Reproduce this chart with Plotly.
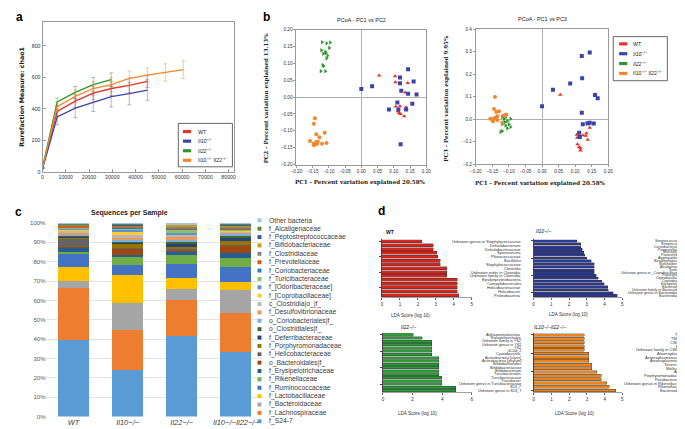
import plotly.graph_objects as go

W, H = 685, 429
def X(px): return px / W
def Y(py): return 1 - py / H
def dx(a, b): return [X(a), X(b)]
def dy(top, bottom): return [Y(bottom), Y(top)]

SANS = "Liberation Sans"
SERIF = "DejaVu Serif"

# ---------------- DATA ----------------
group_html = ["WT", "<i>Il10</i><sup>−/−</sup>", "<i>Il22</i><sup>−/−</sup>",
              "Il10<sup>−/−</sup> Il22<sup>−/−</sup>"]
group_colors = ["#e8302a", "#3a44a8", "#2e962e", "#f5862a"]
err_colors = ["rgba(232,48,42,0.45)", "rgba(58,68,168,0.4)", "rgba(46,150,46,0.45)", "rgba(245,134,42,0.45)"]

# a: rarefaction chao1
depth = [0, 6300, 14050, 21800, 29550, 37300, 45050, 52800, 60550]
chao_wt = [25, 385, 450, 500, 530, 550, 575]
chao_wt_err = [0, 35, 40, 42, 45, 45, 38]
chao_il10 = [20, 350, 405, 440, 478, 497, 520]
chao_il10_err = [0, 50, 60, 55, 65, 70, 65]
chao_il22 = [30, 445, 505, 555, 587]
chao_il22_err = [0, 25, 38, 45, 42]
chao_dko = [28, 415, 480, 530, 555, 595, 615, 632, 650]
chao_dko_err = [0, 30, 40, 45, 45, 45, 45, 55, 57]

# b: PCoA
pc1a_wt = [0.055, 0.104, 0.105, 0.143, 0.135, 0.106, 0.119, 0.138, 0.138, 0.113, 0.121, 0.132, 0.116, 0.136]
pc2_wt = [0.064, 0.062, 0.044, 0.042, 0.014, -0.028, -0.027, -0.030, -0.033, -0.042, -0.050, -0.057, -0.047, -0.035]
pc1a_il10 = [0.000, 0.033, 0.144, 0.119, 0.119, 0.123, 0.161, 0.144, 0.170, 0.157, 0.111, 0.085, 0.114, 0.138, 0.121]
pc2_il10 = [0.024, 0.032, 0.083, 0.058, 0.041, 0.019, 0.046, 0.010, 0.008, -0.020, -0.016, -0.037, -0.037, -0.037, -0.140]
pc1a_il22 = [-0.121, -0.107, -0.096, -0.099, -0.123, -0.111, -0.117, -0.109, -0.107, -0.119, -0.116, -0.125, -0.111, -0.104]
pc2_il22 = [0.163, 0.160, 0.162, 0.146, 0.139, 0.135, 0.129, 0.131, 0.115, 0.095, 0.092, 0.077, 0.077, 0.123]
pc1a_dko = [-0.143, -0.146, -0.139, -0.113, -0.129, -0.158, -0.139, -0.134, -0.147, -0.142, -0.146, -0.121, -0.107, -0.136]
pc2_dko = [-0.063, -0.079, -0.110, -0.106, -0.119, -0.130, -0.133, -0.132, -0.138, -0.140, -0.143, -0.138, -0.136, -0.138]

pc1b_wt = [0.055, 0.140, 0.144, 0.134, 0.132, 0.138, 0.123, 0.105, 0.106, 0.114, 0.107, 0.112, 0.116, 0.116]
pc3_wt = [0.108, -0.023, -0.038, -0.063, -0.074, -0.092, -0.072, -0.069, -0.083, -0.076, -0.112, -0.124, -0.130, -0.140]
pc1b_il10 = [0.000, 0.033, 0.085, 0.120, 0.144, 0.121, 0.160, 0.168, 0.120, 0.123, 0.137, 0.144, 0.156, 0.112, 0.114]
pc3_il10 = [0.057, 0.130, 0.158, 0.280, 0.296, 0.181, 0.107, 0.093, 0.028, -0.023, -0.019, -0.016, -0.020, -0.061, -0.080]
pc1b_il22 = [-0.120, -0.110, -0.095, -0.115, -0.105, -0.120, -0.110, -0.100, -0.095, -0.105, -0.120, -0.125, -0.112]
pc3_il22 = [0.010, 0.009, 0.001, 0.001, -0.009, -0.023, -0.028, -0.023, -0.035, -0.041, -0.053, -0.057, -0.013]
pc1b_dko = [-0.142, -0.145, -0.130, -0.138, -0.156, -0.148, -0.142, -0.135, -0.148, -0.115, -0.110, -0.120, -0.108, -0.135]
pc3_dko = [0.098, 0.045, 0.035, 0.031, 0.001, -0.001, 0.006, 0.013, -0.010, 0.016, 0.016, -0.016, 0.020, -0.004]

# c: relative abundance (bottom -> top)
taxa = ["f_S24-7", "f_Lachnospiraceae", "f_Bacteroidaceae", "f_Lactobacillaceae", "f_Ruminococcaceae",
        "f_Rikenellaceae", "f_Erysipelotrichaceae", "o_Bacteroidales|f_", "f_Helicobacteraceae",
        "f_Porphyromonadaceae", "f_Deferribacteraceae", "o_Clostridiales|f_", "o_Coriobacteriales|f_",
        "f_Desulfovibrionaceae", "c_Clostridia|o_|f_", "f_[Coprobacillaceae]", "f_[Odoribacteraceae]",
        "f_Turicibacteraceae", "f_Coriobacteriaceae", "f_Prevotellaceae", "f_Clostridiaceae",
        "f_Bifidobacteriaceae", "f_Peptostreptococcaceae", "f_Alcaligenaceae", "Other bacteria"]
taxa_colors = ["#5b9bd5", "#ed7d31", "#a5a5a5", "#ffc000", "#4472c4", "#70ad47", "#255e91", "#9e480e",
               "#636363", "#997300", "#264478", "#43682b", "#7cafdd", "#f1975a", "#b7b7b7", "#ffcd33",
               "#698ed0", "#8cc168", "#327dc2", "#d26012", "#848484", "#cc9a00", "#335aa1", "#5a8a39",
               "#9dc3e6"]
samples = ["WT", "Il10−/−", "Il22−/−", "Il10−/−Il22−/−"]
abund_wt = [39.4, 27.2, 3.4, 7.1, 7.0, 1.0, 2.2, 0.3, 4.4, 0.7, 0.4, 0.4, 0.8, 1.0, 1.0, 0.4, 0.5, 0.3, 0.3, 0.9, 0.3, 0.2, 0.2, 0.3, 0.3]
abund_il10 = [23.9, 20.6, 14.4, 14.4, 5.0, 3.9, 1.3, 3.4, 0.4, 2.0, 0.5, 0.5, 0.8, 1.5, 1.0, 2.2, 1.0, 0.5, 0.6, 0.3, 0.4, 0.3, 0.5, 0.5, 0.1]
abund_il22 = [41.4, 19.0, 5.3, 5.8, 7.1, 4.9, 1.6, 0.8, 0.6, 1.2, 1.6, 1.2, 0.8, 1.8, 0.8, 0.2, 0.6, 2.0, 0.3, 0.5, 0.5, 1.0, 0.2, 0.2, 0.6]
abund_dko = [33.4, 19.9, 11.9, 4.4, 7.5, 4.6, 3.0, 3.8, 0.3, 1.8, 1.8, 1.2, 0.8, 0.8, 0.6, 0.2, 0.3, 0.3, 0.5, 0.6, 0.4, 0.4, 0.8, 0.3, 0.4]
pct_ticks = [0, 10, 20, 30, 40, 50, 60, 70, 80, 90, 100]

# d: LEfSe LDA scores (top -> bottom)
lefse_wt_taxa = ["Unknown genus in Staphylococcaceae", "Dehalobacterium", "Dehalobacteriaceae", "Sporosarcina",
                 "Planococcaceae", "Bacillales", "Staphylococcaceae", "Clostridia", "Unknown order in Clostridia",
                 "Unknown family in Clostridia", "Epsilonproteobacteria", "Campylobacterales",
                 "Helicobacteraceae", "Helicobacter", "Proteobacteria"]
lefse_wt_lda = [2.21, 2.85, 2.85, 3.05, 3.1, 3.25, 3.25, 3.6, 3.6, 3.6, 4.2, 4.2, 4.2, 4.2, 4.28]
lefse_il10_taxa = ["Streptococcaceae", "Streptococcus", "Carnobacteriaceae", "Pasteurellaceae", "Mucispirillum",
                   "Pasteurellales", "Aggregatibacter", "Betaproteobacteria", "Burkholderiales", "Alcaligenaceae",
                   "Sutterella", "Unknown genus in _Coprobacillaceae_", "Parasutterella", "Coprobacillaceae",
                   "Coprobacillus", "Erysipelotrichi", "Bacteroidales", "Unknown family in Bacteroidales",
                   "Unknown genus in Bacteroidaceae", "Bacteroidaceae"]
lefse_il10_lda = [2.42, 2.66, 2.66, 2.73, 2.84, 2.88, 2.99, 3.25, 3.43, 3.43, 3.43, 3.43, 3.52, 3.65, 3.84,
                  3.99, 4.17, 4.2, 4.5, 4.72]
lefse_il22_taxa = ["Alphaproteobacteria", "Erysipelotrichales", "Unknown family in YS2", "Unknown genus in YS2",
                   "YS2", "4C0d_2", "Cyanobacteria", "Actinobacteria [class]", "Actinobacteria [phylum]",
                   "Bifidobacteriales", "Bifidobacteriaceae", "Bifidobacterium", "Turicibacterales",
                   "Turicibacteraceae", "Turicibacter", "Unknown genus in Turicibacteraceae", "S24_7",
                   "Unknown genus in S24_7"]
lefse_il22_lda = [2.06, 2.65, 3.3, 3.3, 3.3, 3.3, 3.3, 3.76, 3.76, 3.76, 3.76, 3.76, 3.76, 3.98, 3.98, 3.98, 4.93, 4.93]
lefse_dko_taxa = ["TM7", "TM7_3", "CW040", "F16", "Unknown family in CW040", "Anaeroplasma",
                  "Anaeroplasmataceae", "Anaeroplasmatales", "Tenericutes", "Mollicutes", "AF12",
                  "Porphyromonadaceae", "Parabacteroides", "Unknown genus in Rikenellaceae", "Rikenellaceae",
                  "Bacteroidetes"]
lefse_dko_lda = [2.85, 2.85, 2.85, 2.85, 2.85, 3.1, 3.1, 3.1, 3.28, 3.28, 3.55, 3.8, 3.8, 4.13, 4.26, 4.63]
lefse_colors = ["#d4261e", "#2c3a94", "#2e9a3a", "#ea8420"]

# ---------------- FIGURE ----------------
fig = go.Figure()
ann = []
shapes = []

# ---- panel a
a_series = [(chao_wt, chao_wt_err), (chao_il10, chao_il10_err), (chao_il22, chao_il22_err), (chao_dko, chao_dko_err)]
for i, (vals, err) in enumerate(a_series):
    fig.add_trace(go.Scatter(x=depth[:len(vals)], y=vals, mode="lines", xaxis="x", yaxis="y",
                             line=dict(color=group_colors[i], width=1.3),
                             error_y=dict(type="data", array=err, color=err_colors[i], thickness=1, width=2),
                             showlegend=False))

# ---- panel b
b_sets = [
    ((pc1a_wt, pc2_wt), (pc1b_wt, pc3_wt), "triangle-up"),
    ((pc1a_il10, pc2_il10), (pc1b_il10, pc3_il10), "square"),
    ((pc1a_il22, pc2_il22), (pc1b_il22, pc3_il22), "triangle-right"),
    ((pc1a_dko, pc2_dko), (pc1b_dko, pc3_dko), "circle"),
]
for i, (left, right, sym) in enumerate(b_sets):
    fig.add_trace(go.Scatter(x=left[0], y=left[1], mode="markers", xaxis="x2", yaxis="y2",
                             marker=dict(color=group_colors[i], symbol=sym, size=4), showlegend=False))
    fig.add_trace(go.Scatter(x=right[0], y=right[1], mode="markers", xaxis="x3", yaxis="y3",
                             marker=dict(color=group_colors[i], symbol=sym, size=4), showlegend=False))

# ---- panel c
abund = [abund_wt, abund_il10, abund_il22, abund_dko]
for t, name in enumerate(taxa):
    fig.add_trace(go.Bar(x=samples, y=[a[t] for a in abund], xaxis="x4", yaxis="y4", width=0.576,
                         marker=dict(color=taxa_colors[t], line=dict(width=0)), name=name, showlegend=False))

# ---- panel d
d_sets = [(lefse_wt_taxa, lefse_wt_lda), (lefse_il10_taxa, lefse_il10_lda),
          (lefse_il22_taxa, lefse_il22_lda), (lefse_dko_taxa, lefse_dko_lda)]
for k, (labels, vals) in enumerate(d_sets):
    fig.add_trace(go.Bar(x=vals, y=labels, orientation="h", xaxis=f"x{5+k}", yaxis=f"y{5+k}", width=0.78,
                         marker=dict(color=lefse_colors[k], line=dict(color="#333", width=0.4)),
                         showlegend=False))

# ---------------- AXES ----------------
tick_small = dict(family=SANS, size=5.2, color="#333")
frame = dict(showline=True, linecolor="#9a9a9a", linewidth=1, mirror=True, showgrid=False, zeroline=False)

layout_axes = dict(
    xaxis=dict(domain=dx(29, 224), range=[0, 82500], tickvals=list(range(0, 80001, 10000)), tickformat="d",
               ticks="inside", ticklen=3, tickcolor="#999", tickfont=tick_small, anchor="y", **frame),
    yaxis=dict(domain=dy(10.7, 163.3), range=[0, 955], dtick=200, ticks="inside", ticklen=3, tickcolor="#999",
               tickfont=tick_small, anchor="x", **frame),
)
b_tick = dict(family=SANS, size=4.6, color="#333")
for n, xd, yd, yr, ydt, yfmt in [(2, dx(287, 419), dy(19, 155.7), [-0.2, 0.2], 0.05, ".2f"),
                                  (3, dx(469.3, 604), dy(18.3, 155.3), [-0.2, 0.4], 0.1, ".1f")]:
    layout_axes[f"xaxis{n}"] = dict(domain=xd, range=[-0.2, 0.2], dtick=0.05, tickformat=".2f", anchor=f"y{n}",
                                    showline=True, linecolor="#9a9a9a", linewidth=1, mirror=True, showgrid=False,
                                    zeroline=True, zerolinecolor="#b0b0b0", zerolinewidth=1,
                                    ticks="outside", ticklen=2, tickcolor="#999", tickfont=b_tick)
    layout_axes[f"yaxis{n}"] = dict(domain=yd, range=yr, dtick=ydt, tickformat=yfmt, anchor=f"x{n}",
                                    showline=True, linecolor="#9a9a9a", linewidth=1, mirror=True, showgrid=False,
                                    zeroline=True, zerolinecolor="#b0b0b0", zerolinewidth=1,
                                    ticks="outside", ticklen=2, tickcolor="#999", tickfont=b_tick)

layout_axes["xaxis4"] = dict(domain=dx(33, 253), range=[-0.5, 3.5], anchor="y4", type="category",
                             tickvals=samples, ticktext=[f"<i>{s}</i>" for s in samples],
                             tickfont=dict(family=SANS, size=7.5, color="#404040"), showline=False,
                             showgrid=False, zeroline=False, ticks="")
layout_axes["yaxis4"] = dict(domain=dy(215, 411.3), range=[0, 100], tickvals=pct_ticks,
                             ticktext=[f"{v}%" for v in pct_ticks], anchor="x4",
                             tickfont=dict(family=SANS, size=6, color="#595959"), showline=False,
                             gridcolor="#e4e4e4", gridwidth=0.8, zeroline=False, ticks="")

d_geom = [  # x domain, y domain, xmax
    (dx(374, 465.3), dy(231.7, 290), 5),
    (dx(528, 618.3), dy(231.7, 290), 5),
    (dx(375, 465.3), dy(326.7, 386.7), 6),
    (dx(528.3, 618.3), dy(326.7, 386.7), 5),
]
d_tick = dict(family=SANS, size=4.6, color="#333")
for k, (xd, yd, xmax) in enumerate(d_geom):
    n = 5 + k
    labels = d_sets[k][0]
    layout_axes[f"xaxis{n}"] = dict(domain=xd, range=[0, xmax], dtick=1 if xmax == 5 else 2, anchor=f"y{n}",
                                    showline=True, linecolor="#a0a0a0", linewidth=1.2, showgrid=False,
                                    zeroline=False, ticks="outside", ticklen=2, tickcolor="#666",
                                    tickfont=d_tick)
    layout_axes[f"yaxis{n}"] = dict(domain=yd, type="category", range=[len(labels) - 0.5, -0.5],
                                    anchor=f"x{n}", showticklabels=False, ticks="outside", ticklen=2,
                                    tickcolor="#444", tickwidth=0.5, showline=True, linecolor="#444",
                                    linewidth=0.5, showgrid=False, zeroline=False)

# ---------------- ANNOTATIONS ----------------
def txt(x, y, s, size, family=SANS, color="#222", xanchor="center", yanchor="middle", angle=0, **kw):
    ann.append(dict(x=X(x), y=Y(y), xref="paper", yref="paper", text=s, showarrow=False,
                    font=dict(family=family, size=size, color=color), xanchor=xanchor, yanchor=yanchor,
                    textangle=angle, **kw))

# panel letters
txt(6, 6, "<b>a</b>", 12, color="#000")
txt(257, 6, "<b>b</b>", 12, color="#000")
txt(5, 204, "<b>c</b>", 12, color="#000")
txt(374, 203, "<b>d</b>", 12, color="#000")

# panel a texts
txt(8, 87, "<b>Rarefaction Measure: chao1</b>", 6.3, family="DejaVu Sans", angle=-90)
shapes.append(dict(type="rect", xref="paper", yref="paper", x0=X(167), x1=X(222), y0=Y(158), y1=Y(114),
                   line=dict(color="#666", width=1), fillcolor="white"))
for i, g in enumerate(group_html):
    yy = 122.3 + 9.7 * i
    shapes.append(dict(type="rect", xref="paper", yref="paper", x0=X(171.7), x1=X(180), y0=Y(yy + 1.6),
                       y1=Y(yy - 1.6), line=dict(width=0), fillcolor=group_colors[i]))
    txt(184.5, yy, g, 5.3, xanchor="left")

# panel b texts
txt(352.7, 9.5, "PCoA - PC1 vs PC2", 5.5)
txt(536.7, 8, "PCoA - PC1 vs PC3", 5.5)
txt(352.5, 174, "<b>PC1 - Percent variation explained 20.58%</b>", 5.6, family=SERIF)
txt(535.5, 175, "<b>PC1 - Percent variation explained 20.58%</b>", 5.6, family=SERIF)
txt(256.7, 88, "<b>PC2 - Percent variation explained 13.13%</b>", 5.6, family=SERIF, angle=-90)
txt(440, 88, "<b>PC3 - Percent variation explained 9.95%</b>", 5.6, family=SERIF, angle=-90)
shapes.append(dict(type="rect", xref="paper", yref="paper", x0=X(609), x1=X(664), y0=Y(70.7), y1=Y(26),
                   line=dict(color="#666", width=1), fillcolor="white"))
for i, g in enumerate(group_html):
    yy = 33.3 + 10 * i
    shapes.append(dict(type="rect", xref="paper", yref="paper", x0=X(615), x1=X(623.3), y0=Y(yy + 1.6),
                       y1=Y(yy - 1.6), line=dict(width=0), fillcolor=group_colors[i]))
    txt(627, yy, g, 5.3, xanchor="left")

# panel c texts
txt(117, 205, "<b>Sequences per Sample</b>", 7)
for i, name in enumerate(reversed(taxa)):
    yy = 212.3 + 8.49 * i
    col = taxa_colors[len(taxa) - 1 - i]
    shapes.append(dict(type="rect", xref="paper", yref="paper", x0=X(247.5), x1=X(251.5), y0=Y(yy + 2),
                       y1=Y(yy - 2), line=dict(width=0), fillcolor=col))
    txt(257, yy, name, 6.8, xanchor="left", color="#404040")

# panel d texts
d_titles = [("<b>WT</b>", 376, 224), ("<i>Il10−/−</i>", 528, 222.7), ("<i>Il22−/−</i>", 391.5, 320.7),
            ("<i>IL10−/−Il22−/−</i>", 526.5, 320)]
for s, x0, y0 in d_titles:
    txt(x0, y0, s, 5, xanchor="left", color="#111")
for xc, yc in [(403, 309.3), (563.3, 308.3), (410, 408.3), (570, 408.3)]:
    txt(xc, yc, "LDA Score (log 10)", 4.6, color="#333")
label_right = [517, 683, 517, 683]
label_size = [4.0, 3.6, 3.8, 4.0]
for k, (labels, vals) in enumerate(d_sets):
    for lab in labels:
        ann.append(dict(x=X(label_right[k]), xref="paper", y=lab, yref=f"y{5+k}", text=lab, showarrow=False,
                        xanchor="right", yanchor="middle",
                        font=dict(family=SANS, size=label_size[k], color="#333")))

fig.update_layout(
    width=W, height=H, margin=dict(l=0, r=0, t=0, b=0), autosize=False,
    paper_bgcolor="white", plot_bgcolor="white", barmode="stack", showlegend=False,
    annotations=ann, shapes=shapes, font=dict(family=SANS), **layout_axes)

fig.write_html("out.html")
